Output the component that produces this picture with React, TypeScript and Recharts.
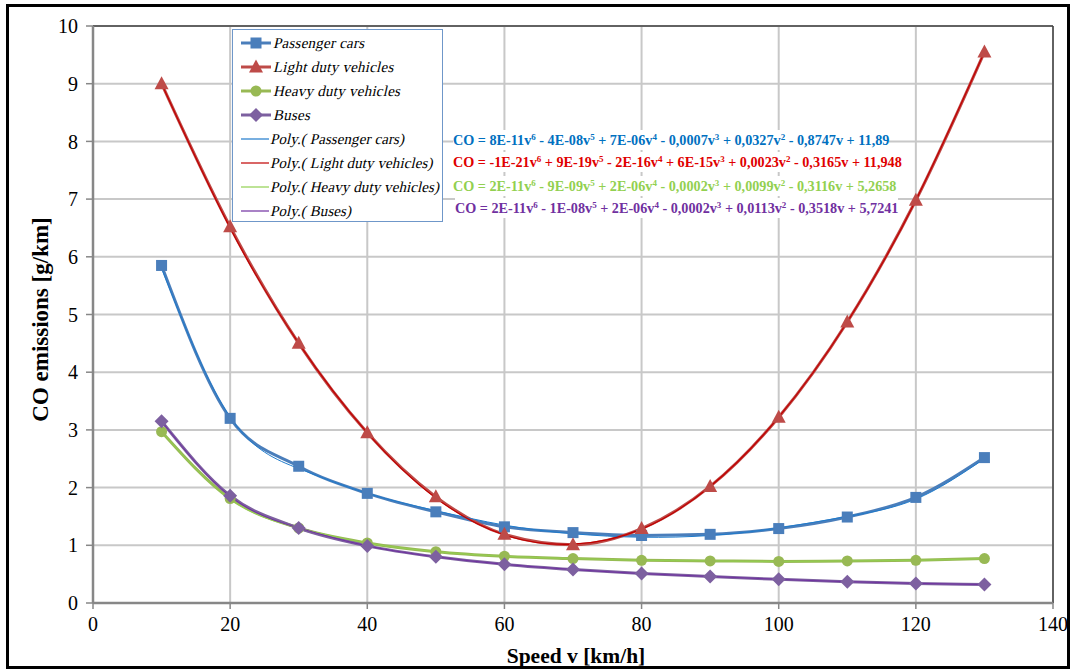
import React from "react";
import {
  ComposedChart,
  Line,
  XAxis,
  YAxis,
  CartesianGrid,
  Legend,
  ReferenceLine,
  Label,
} from "recharts";

// ---------- data ----------
const speeds = [10, 20, 30, 40, 50, 60, 70, 80, 90, 100, 110, 120, 130];
const passengerCars = [5.85, 3.2, 2.37, 1.9, 1.58, 1.32, 1.22, 1.17, 1.19, 1.29, 1.49, 1.83, 2.52];
const lightDuty = [9.0, 6.52, 4.5, 2.95, 1.84, 1.19, 1.01, 1.29, 2.02, 3.22, 4.87, 6.98, 9.55];
const heavyDuty = [2.97, 1.81, 1.3, 1.04, 0.89, 0.81, 0.77, 0.74, 0.73, 0.72, 0.73, 0.74, 0.77];
const buses = [3.15, 1.86, 1.3, 0.99, 0.8, 0.67, 0.58, 0.51, 0.46, 0.41, 0.37, 0.34, 0.32];

const polyPassenger = [5.8, 3.22, 2.33, 1.9, 1.6, 1.35, 1.2, 1.14, 1.17, 1.3, 1.5, 1.8, 2.5];
const polyLight = [9.0, 6.5, 4.5, 2.95, 1.82, 1.18, 1.02, 1.28, 2.02, 3.22, 4.87, 6.98, 9.55];
const polyHeavy = [2.97, 1.8, 1.3, 1.04, 0.89, 0.81, 0.77, 0.74, 0.73, 0.72, 0.73, 0.74, 0.77];
const polyBuses = [3.15, 1.85, 1.3, 0.99, 0.8, 0.67, 0.58, 0.51, 0.46, 0.41, 0.37, 0.34, 0.32];

const xTicks = [0, 20, 40, 60, 80, 100, 120, 140];
const yTicks = [0, 1, 2, 3, 4, 5, 6, 7, 8, 9, 10];

const seriesNames = [
  "Passenger cars",
  "Light duty vehicles",
  "Heavy duty vehicles",
  "Buses",
  "Poly.( Passenger cars)",
  "Poly.( Light duty vehicles)",
  "Poly.( Heavy duty vehicles)",
  "Poly.( Buses)",
];

const equations = [
  ["CO = 8E-11v", "6", " - 4E-08v", "5", " + 7E-06v", "4", " - 0,0007v", "3", " + 0,0327v", "2", " - 0,8747v + 11,89"],
  ["CO = -1E-21v", "6", " + 9E-19v", "5", " - 2E-16v", "4", " + 6E-15v", "3", " + 0,0023v", "2", " - 0,3165v + 11,948"],
  ["CO = 2E-11v", "6", " - 9E-09v", "5", " + 2E-06v", "4", " - 0,0002v", "3", " + 0,0099v", "2", " - 0,3116v + 5,2658"],
  ["CO = 2E-11v", "6", " - 1E-08v", "5", " + 2E-06v", "4", " - 0,0002v", "3", " + 0,0113v", "2", " - 0,3518v + 5,7241"],
];

const data = speeds.map((v, i) => ({
  v,
  pc: passengerCars[i],
  ld: lightDuty[i],
  hd: heavyDuty[i],
  bu: buses[i],
  ppc: polyPassenger[i],
  pld: polyLight[i],
  phd: polyHeavy[i],
  pbu: polyBuses[i],
}));

// ---------- styles ----------
const SERIF = "'Liberation Serif', 'Times New Roman', serif";
const C_PC = "#4A7EBB";
const C_LD = "#BE4B48";
const C_HD = "#98B954";
const C_BU = "#7D60A0";
const T_PC = "#1F7BCB";
const T_LD = "#C00000";
const T_HD = "#92D050";
const T_BU = "#7030A0";
const EQ_COLORS = ["#0070C0", "#E00000", "#92D050", "#7030A0"];

type Shape = "square" | "triangle" | "circle" | "diamond";

function marker(shape: Shape, cx: number, cy: number, fill: string, key?: any) {
  switch (shape) {
    case "square":
      return <rect key={key} x={cx - 5.5} y={cy - 5.5} width={11} height={11} fill={fill} />;
    case "triangle":
      return (
        <polygon
          key={key}
          points={`${cx},${cy - 7.5} ${cx + 7},${cy + 5.5} ${cx - 7},${cy + 5.5}`}
          fill={fill}
        />
      );
    case "circle":
      return <circle key={key} cx={cx} cy={cy} r={5.5} fill={fill} />;
    case "diamond":
    default:
      return (
        <polygon
          key={key}
          points={`${cx},${cy - 7} ${cx + 7},${cy} ${cx},${cy + 7} ${cx - 7},${cy}`}
          fill={fill}
        />
      );
  }
}

const makeDot = (shape: Shape, fill: string) => (props: any) => {
  const { cx, cy, index } = props;
  if (cx == null || cy == null) return <g key={`d${index}`} />;
  return marker(shape, cx, cy, fill, `d${shape}${index}`);
};

const legendItems: { name: string; color: string; shape?: Shape }[] = [
  { name: seriesNames[0], color: C_PC, shape: "square" },
  { name: seriesNames[1], color: C_LD, shape: "triangle" },
  { name: seriesNames[2], color: C_HD, shape: "circle" },
  { name: seriesNames[3], color: C_BU, shape: "diamond" },
  { name: seriesNames[4], color: T_PC },
  { name: seriesNames[5], color: T_LD },
  { name: seriesNames[6], color: T_HD },
  { name: seriesNames[7], color: T_BU },
];

const LegendBox = () => (
  <div
    style={{
      width: 209,
      height: 190,
      border: "1px solid #6F97C9",
      background: "#fff",
      boxSizing: "content-box",
      paddingTop: 1,
    }}
  >
    {legendItems.map((it) => (
      <div
        key={it.name}
        style={{ height: 24, display: "flex", alignItems: "center", paddingLeft: 6 }}
      >
        <svg width={34} height={16} style={{ flex: "none" }}>
          {it.shape ? (
            <>
              <line x1={2} y1={8} x2={32} y2={8} stroke={it.color} strokeWidth={3} />
              {marker(it.shape, 17, 8, it.color)}
            </>
          ) : (
            <line x1={2} y1={8} x2={30} y2={8} stroke={it.color} strokeWidth={1.2} />
          )}
        </svg>
        <span
          style={{
            display: "inline-block",
            fontFamily: SERIF,
            fontStyle: "normal",
            transform: "skewX(-13deg)",
            fontSize: 15,
            letterSpacing: it.shape ? 0.25 : 0.1,
            marginLeft: it.shape ? 1 : -2,
            color: "#000",
            whiteSpace: "nowrap",
          }}
        >
          {it.name}
        </span>
      </div>
    ))}
  </div>
);

const YTitle = (props: any) => {
  const vb = props.viewBox || {};
  const cy = vb.y + vb.height / 2 + 5;
  const cx = 40;
  return (
    <text
      x={cx}
      y={cy}
      transform={`rotate(-90, ${cx}, ${cy})`}
      textAnchor="middle"
      dominantBaseline="central"
      fontFamily={SERIF}
      fontWeight="bold"
      fontSize={23}
      fill="#000"
    >
      CO emissions [g/km]
    </text>
  );
};

const XTitle = (props: any) => {
  const vb = props.viewBox || {};
  const cx = vb.x + vb.width / 2;
  return (
    <text
      x={cx + 3}
      y={656}
      textAnchor="middle"
      dominantBaseline="central"
      fontFamily={SERIF}
      fontWeight="bold"
      fontSize={21.5}
      fill="#000"
    >
      Speed v [km/h]
    </text>
  );
};

export default function App() {
  return (
    <div style={{ position: "relative", width: 1070, height: 671, background: "#fff" }}>
      <style>{`body{margin:0;}`}</style>
      <ComposedChart
        width={1070}
        height={671}
        data={data}
        margin={{ top: 26, right: 17, bottom: 0, left: 0 }}
        style={{ fontFamily: SERIF }}
      >
        <CartesianGrid stroke="#C8C8C8" strokeWidth={2} />
        <XAxis
          dataKey="v"
          type="number"
          domain={[0, 140]}
          ticks={xTicks}
          interval={0}
          axisLine={{ stroke: "#878787", strokeWidth: 2.5 }}
          tickLine={{ stroke: "#878787", strokeWidth: 1.5 }}
          tickSize={6}
          tickMargin={8}
          tick={{ fill: "#000", fontSize: 20, fontFamily: SERIF }}
          height={68}
        >
          <Label content={<XTitle />} />
        </XAxis>
        <YAxis
          type="number"
          domain={[0, 10]}
          ticks={yTicks}
          interval={0}
          axisLine={{ stroke: "#878787", strokeWidth: 2.5 }}
          tickLine={{ stroke: "#878787", strokeWidth: 1.5 }}
          tickSize={7}
          tickMargin={8}
          tick={{ fill: "#000", fontSize: 20, fontFamily: SERIF }}
          width={93}
        >
          <Label content={<YTitle />} />
        </YAxis>
        <ReferenceLine y={10} stroke="#404040" strokeWidth={1.5} />
        <ReferenceLine x={140} stroke="#404040" strokeWidth={1.5} />

        <Line
          name={seriesNames[0]}
          dataKey="pc"
          type="monotone"
          stroke={C_PC}
          strokeWidth={3}
          dot={makeDot("square", C_PC)}
          activeDot={false}
          isAnimationActive={false}
        />
        <Line
          name={seriesNames[1]}
          dataKey="ld"
          type="monotone"
          stroke={C_LD}
          strokeWidth={3}
          dot={makeDot("triangle", C_LD)}
          activeDot={false}
          isAnimationActive={false}
        />
        <Line
          name={seriesNames[2]}
          dataKey="hd"
          type="monotone"
          stroke={C_HD}
          strokeWidth={3}
          dot={makeDot("circle", C_HD)}
          activeDot={false}
          isAnimationActive={false}
        />
        <Line
          name={seriesNames[3]}
          dataKey="bu"
          type="monotone"
          stroke={C_BU}
          strokeWidth={3}
          dot={makeDot("diamond", C_BU)}
          activeDot={false}
          isAnimationActive={false}
        />
        <Line
          name={seriesNames[4]}
          dataKey="ppc"
          type="natural"
          stroke={T_PC}
          strokeWidth={1}
          dot={false}
          activeDot={false}
          isAnimationActive={false}
        />
        <Line
          name={seriesNames[5]}
          dataKey="pld"
          type="natural"
          stroke={T_LD}
          strokeWidth={1.2}
          dot={false}
          activeDot={false}
          isAnimationActive={false}
        />
        <Line
          name={seriesNames[6]}
          dataKey="phd"
          type="natural"
          stroke={T_HD}
          strokeWidth={1}
          dot={false}
          activeDot={false}
          isAnimationActive={false}
        />
        <Line
          name={seriesNames[7]}
          dataKey="pbu"
          type="natural"
          stroke={T_BU}
          strokeWidth={1}
          dot={false}
          activeDot={false}
          isAnimationActive={false}
        />
        <Legend
          layout="vertical"
          align="center"
          verticalAlign="middle"
          wrapperStyle={{ left: 232, top: 29, width: 211 }}
          content={() => <LegendBox />}
        />
      </ComposedChart>

      {equations.map((parts, r) => (
        <div
          key={r}
          style={{
            position: "absolute",
            left: r === 3 ? 455 : 453,
            top: [130, 152, 176, 198][r],
            fontFamily: SERIF,
            fontWeight: "bold",
            fontSize: 14.2,
            lineHeight: "20px",
            color: EQ_COLORS[r],
            whiteSpace: "pre",
            background: "#fff",
          }}
        >
          {parts.map((p, i) =>
            i % 2 === 1 ? (
              <sup key={i} style={{ fontSize: 9, verticalAlign: 5, lineHeight: 0 }}>
                {p}
              </sup>
            ) : (
              <span key={i}>{p}</span>
            )
          )}
        </div>
      ))}

      <div
        style={{
          position: "absolute",
          left: 6,
          top: 4,
          width: 1064,
          height: 665,
          border: "3px solid #000",
          boxSizing: "border-box",
          pointerEvents: "none",
        }}
      />
    </div>
  );
}
